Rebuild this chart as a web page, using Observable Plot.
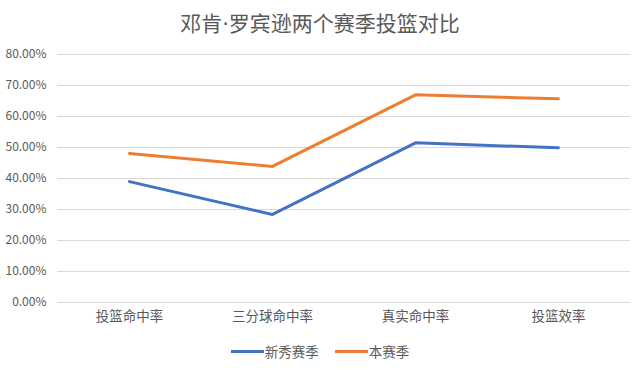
<!DOCTYPE html>
<html><head><meta charset="utf-8">
<script src="https://cdn.jsdelivr.net/npm/d3@7"></script>
<script src="https://cdn.jsdelivr.net/npm/@observablehq/plot@0.6"></script>
<style>
body{margin:0;background:#fff;font-family:"Noto Sans CJK SC","Noto Sans",sans-serif;width:640px;height:370px;overflow:hidden}
#title{height:44px;line-height:44px;text-align:center;font-size:21px;color:#595959}
#title .dot{font-family:"DejaVu Sans",sans-serif}
#legend{height:34px;display:flex;justify-content:center;align-items:center;font-size:13.5px;color:#595959;gap:16px}
.item{display:flex;align-items:center}
.sw{width:33px;height:3px;margin-right:1px}
</style></head><body>
<div id="title">邓肯<span class="dot">·</span>罗宾逊两个赛季投篮对比</div>
<div id="chart"></div>
<div id="legend"></div>
<script>
const categories = ["投篮命中率","三分球命中率","真实命中率","投篮效率"];
const seriesNames = ["新秀赛季","本赛季"];
const rookie = [0.390, 0.284, 0.515, 0.499];
const current = [0.481, 0.439, 0.670, 0.657];
const yTicks = [0,0.1,0.2,0.3,0.4,0.5,0.6,0.7,0.8];
const colors = ["#4472C4","#ED7D31"];

const data = [];
categories.forEach((c,i)=>{
  data.push({cat:c, series:seriesNames[0], v:rookie[i]});
  data.push({cat:c, series:seriesNames[1], v:current[i]});
});

const chart = Plot.plot({
  width:640, height:290,
  marginLeft:57, marginRight:10, marginTop:10, marginBottom:32,
  style:{fontFamily:'"Noto Sans CJK SC","Noto Sans",sans-serif', fontSize:"12px", color:"#595959", background:"#fff"},
  x:{type:"point", domain:categories, padding:0.5, label:null},
  y:{domain:[0,0.8], ticks:yTicks, label:null},
  color:{domain:seriesNames, range:colors},
  marks:[
    Plot.gridY(yTicks,{stroke:"#d9d9d9", strokeOpacity:1, strokeWidth:1}),
    Plot.axisY({ticks:yTicks, tickSize:0, tickPadding:11, tickFormat:d=>(d*100).toFixed(2)+"%", fill:"#595959"}),
    Plot.axisX({tickSize:0, tickPadding:9, fill:"#595959", fontSize:13.5}),
    Plot.line(data,{x:"cat", y:"v", stroke:"series", z:"series", strokeWidth:3, strokeLinejoin:"round", strokeLinecap:"round"})
  ]
});
document.getElementById("chart").appendChild(chart);

const lg = document.getElementById("legend");
seriesNames.forEach((s,i)=>{
  const it = document.createElement("div"); it.className="item";
  const sw = document.createElement("div"); sw.className="sw"; sw.style.background=colors[i];
  const t = document.createElement("span"); t.textContent=s;
  it.appendChild(sw); it.appendChild(t); lg.appendChild(it);
});
</script>
</body></html>
